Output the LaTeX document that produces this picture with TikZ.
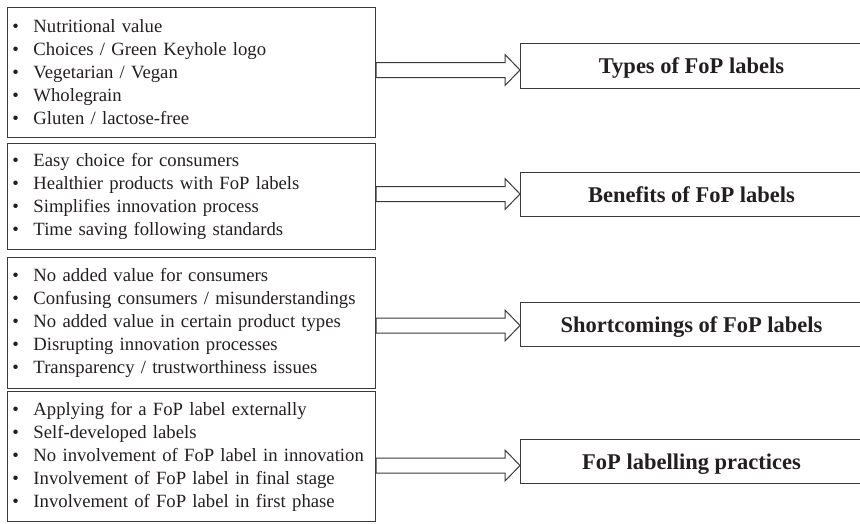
\documentclass[tikz,border=0pt]{standalone}
\usepackage{fontspec}
\setmainfont{Liberation Serif}
\usetikzlibrary{calc}
\definecolor{ink}{HTML}{231F20}
\definecolor{edge}{HTML}{3A3A3A}
\newcommand{\itm}[1]{\makebox[21pt][l]{\textbullet}#1}
\tikzset{
  listbox/.style={draw=edge, line width=1pt, anchor=north west, text width=358pt, inner xsep=5pt, inner ysep=0pt, align=left, text=ink, font=\fontsize{18.7}{23}\selectfont},
  headbox/.style={draw=edge, line width=1pt, anchor=north west, minimum width=342pt, minimum height=44pt, text depth=0pt, text=ink, font=\fontsize{22.5}{26}\selectfont\bfseries},
  fat/.style={draw=edge, line width=1pt, line join=miter, fill=white},
}

\begin{document}
\begin{tikzpicture}[x=1pt,y=-1pt]
  \useasboundingbox (0,0) rectangle (860,523);
  \clip (0,0) rectangle (860,523);

  % left: interview findings
  \node[listbox, minimum height=130pt] (l1) at (7,7) {\itm{Nutritional value}\\ \itm{Choices / Green Keyhole logo}\\ \itm{Vegetarian / Vegan}\\ \itm{Wholegrain}\\ \itm{Gluten / lactose-free}};
  \node[listbox, minimum height=106pt] (l2) at (7,143) {\itm{Easy choice for consumers}\\ \itm{Healthier products with FoP labels}\\ \itm{Simplifies innovation process}\\ \itm{Time saving following standards}};
  \node[listbox, minimum height=131pt] (l3) at (7,257) {\itm{No added value for consumers}\\ \itm{Confusing consumers / misunderstandings}\\ \itm{No added value in certain product types}\\ \itm{Disrupting innovation processes}\\ \itm{Transparency / trustworthiness issues}};
  \node[listbox, minimum height=130pt] (l4) at (7,391) {\itm{Applying for a FoP label externally}\\ \itm{Self-developed labels}\\ \itm{No involvement of FoP label in innovation}\\ \itm{Involvement of FoP label in final stage}\\ \itm{Involvement of FoP label in first phase}};

  % right: themes
  \node[headbox, minimum height=45pt] (r1) at (520,43) {Types of FoP labels};
  \node[headbox] (r2) at (520,172) {Benefits of FoP labels};
  \node[headbox] (r3) at (520,302) {Shortcomings of FoP labels};
  \node[headbox] (r4) at (520,439) {FoP labelling practices};

  % block arrows
  \foreach \i/\ay in {1/70,2/194,3/325.5,4/465.5}{
    \coordinate (s\i) at (l\i.east |- 0,\ay);
    \coordinate (t\i) at (r\i.west |- 0,\ay);
    \draw[fat] ($(s\i)+(0,-7.5)$) -- ($(t\i)+(-15,-7.5)$) -- ($(t\i)+(-15,-15.5)$) -- (t\i)
      -- ($(t\i)+(-15,15.5)$) -- ($(t\i)+(-15,7.5)$) -- ($(s\i)+(0,7.5)$) -- cycle;
  }
\end{tikzpicture}
\end{document}
